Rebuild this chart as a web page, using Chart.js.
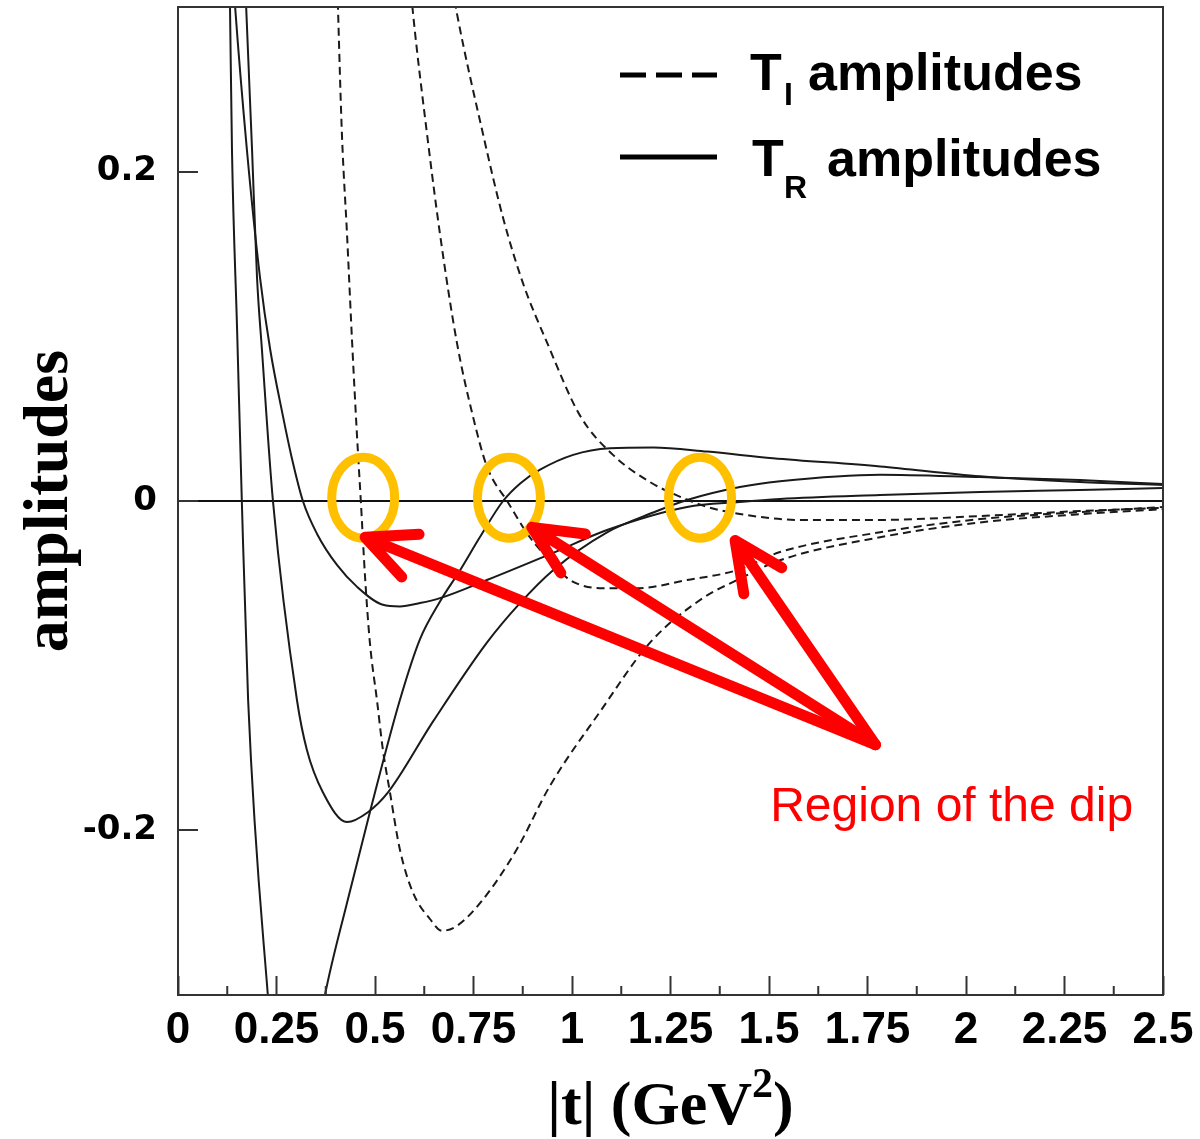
<!DOCTYPE html>
<html>
<head>
<meta charset="utf-8">
<script src="https://cdn.jsdelivr.net/npm/chart.js@4.4.1/dist/chart.umd.min.js"></script>
<style>
  html, body { margin: 0; padding: 0; background: #fff; }
  canvas { display: block; }
</style>
</head>
<body>
<canvas id="chartAmp" width="1200" height="1139"></canvas>
<script>
// |t| (GeV^2) samples and amplitude values for each curve

// T_R amplitudes (solid)
const tR1 = [0.127, 0.132, 0.137, 0.150, 0.162, 0.178, 0.228, 0.255, 0.29, 0.33, 0.373, 0.43, 0.487, 0.563, 0.614, 0.665, 0.716, 0.766, 0.825, 0.87, 0.919, 1.003, 1.096, 1.206, 1.343, 1.510, 1.782, 2.036, 2.289, 2.5];
const yR1 = [0.39, 0.300, 0.213, 0.104, 0, -0.121, -0.300, -0.37, -0.395, -0.36, -0.300, -0.243, -0.189, -0.121, -0.084, -0.061, -0.042, -0.022, 0, 0.011, 0.019, 0.028, 0.032, 0.0325, 0.030, 0.026, 0.021, 0.015, 0.0115, 0.0097];

const tR2 = [0.16, 0.173, 0.188, 0.2005, 0.213, 0.241, 0.302, 0.327, 0.368, 0.429, 0.482, 0.533, 0.647, 0.784, 0.868, 0.952, 1.089, 1.206, 1.292, 1.426, 1.528, 1.782, 2.036, 2.289, 2.5];
const yR2 = [0.385, 0.300, 0.213, 0.136, 0.092, 0, -0.121, -0.151, -0.177, -0.195, -0.189, -0.177, -0.134, -0.086, -0.062, -0.042, -0.019, -0.007, 0.0006, 0.0085, 0.012, 0.016, 0.0145, 0.0127, 0.0103];

const tR3 = [0.13, 0.145, 0.175, 0.208, 0.234, 0.266, 0.289, 0.317, 0.353, 0.404, 0.454, 0.520, 0.563, 0.614, 0.665, 0.784, 0.952, 1.089, 1.292, 1.426, 1.528, 1.782, 2.036, 2.289, 2.5];
const yR3 = [0.355, 0.300, 0.213, 0.136, 0.092, 0.052, 0.026, 0, -0.020, -0.039, -0.052, -0.063, -0.064, -0.062, -0.059, -0.048, -0.0315, -0.0176, -0.0036, -0.0006, 0.0012, 0.0036, 0.0055, 0.0067, 0.0079];

// T_I amplitudes (dashed)
const tI1 = [0.396, 0.406, 0.416, 0.429, 0.442, 0.454, 0.464, 0.475, 0.487, 0.505, 0.520, 0.538, 0.563, 0.596, 0.640, 0.670, 0.708, 0.774, 0.860, 0.944, 1.071, 1.198, 1.332, 1.419, 1.528, 1.782, 2.036, 2.289, 2.5];
const yI1 = [0.39, 0.300, 0.223, 0.162, 0.096, 0.041, 0, -0.047, -0.086, -0.121, -0.151, -0.177, -0.2115, -0.2376, -0.254, -0.261, -0.258, -0.242, -0.2115, -0.173, -0.128, -0.086, -0.059, -0.048, -0.036, -0.022, -0.013, -0.008, -0.005];

const tI2 = [0.58, 0.597, 0.632, 0.665, 0.708, 0.749, 0.784, 0.838, 0.893, 0.952, 0.995, 1.079, 1.165, 1.292, 1.419, 1.528, 1.782, 2.036, 2.289, 2.5];
const yI2 = [0.34, 0.295, 0.223, 0.162, 0.096, 0.051, 0.021, -0.001, -0.022, -0.038, -0.048, -0.053, -0.053, -0.048, -0.042, -0.031, -0.019, -0.011, -0.0067, -0.0036];

const tI3 = [0.68, 0.708, 0.774, 0.825, 0.876, 0.937, 1.020, 1.104, 1.198, 1.282, 1.343, 1.426, 1.579, 1.782, 2.036, 2.289, 2.5];
const yI3 = [0.335, 0.296, 0.223, 0.172, 0.132, 0.096, 0.052, 0.028, 0.0115, 0.0018, -0.0036, -0.0079, -0.0115, -0.0115, -0.0091, -0.0061, -0.0042];

// axis ticks
const xTicks = [0, 0.25, 0.5, 0.75, 1, 1.25, 1.5, 1.75, 2, 2.25, 2.5];
const xMinorTicks = [0.125, 0.375, 0.625, 0.875, 1.125, 1.375, 1.625, 1.875, 2.125, 2.375];
const yTicks = [-0.2, 0, 0.2];

// dip markers and arrows (data coordinates)
const dipT = [0.47, 0.84, 1.325];
const arrowTips = [[0.475, -0.022], [0.898, -0.016], [1.414, -0.024]];
const arrowFrom = [1.77, -0.148];
const dipLabel = "Region of the dip";
const dipLabelAt = [1.503, -0.1945];

function toPoints(ts, ys) {
  return ts.map((t, i) => ({ x: t, y: ys[i] }));
}

function curve(ts, ys, dashed) {
  return {
    data: toPoints(ts, ys),
    borderColor: "#1a1a1a",
    borderWidth: 2,
    borderDash: dashed ? [8, 5] : [],
    cubicInterpolationMode: "monotone",
    pointRadius: 0,
    fill: false,
  };
}

function drawArrow(ctx, x0, y0, x1, y1) {
  let ang = Math.atan2(y0 - y1, x0 - x1);
  let len = 54;
  ctx.beginPath();
  ctx.moveTo(x0, y0);
  ctx.lineTo(x1, y1);
  ctx.moveTo(x1 + len * Math.cos(ang - 0.44), y1 + len * Math.sin(ang - 0.44));
  ctx.lineTo(x1, y1);
  ctx.lineTo(x1 + len * Math.cos(ang + 0.44), y1 + len * Math.sin(ang + 0.44));
  ctx.stroke();
}

const decorations = {
  id: "decorations",
  afterDatasetsDraw(chart) {
    const { ctx, chartArea: a, scales } = chart;
    const x = scales.x;
    const y = scales.y;
    ctx.save();

    // frame around the plot
    ctx.strokeStyle = "#333";
    ctx.lineWidth = 2;
    ctx.setLineDash([]);
    ctx.strokeRect(a.left, a.top, a.right - a.left, a.bottom - a.top);

    // minor ticks on the |t| axis
    ctx.beginPath();
    for (const v of xMinorTicks) {
      let px = x.getPixelForValue(v);
      ctx.moveTo(px, a.bottom);
      ctx.lineTo(px, a.bottom - 9);
    }
    ctx.stroke();

    // x axis title with a raised exponent
    ctx.fillStyle = "#000";
    ctx.textBaseline = "alphabetic";
    ctx.textAlign = "left";
    let mainFont = "bold 62px 'Liberation Serif', 'Times New Roman', serif";
    let supFont = "bold 42px 'Liberation Serif', 'Times New Roman', serif";
    ctx.font = mainFont;
    let wMain = ctx.measureText("|t| (GeV").width;
    let wClose = ctx.measureText(")").width;
    ctx.font = supFont;
    let wSup = ctx.measureText("2").width;
    let tx = (a.left + a.right) / 2 - (wMain + wSup + wClose) / 2;
    ctx.font = mainFont;
    ctx.fillText("|t| (GeV", tx, 1124);
    ctx.fillText(")", tx + wMain + wSup, 1124);
    ctx.font = supFont;
    ctx.fillText("2", tx + wMain, 1097);

    // legend
    ctx.strokeStyle = "#000";
    ctx.lineWidth = 5;
    ctx.setLineDash([26, 10]);
    ctx.beginPath();
    ctx.moveTo(620, 75);
    ctx.lineTo(717, 75);
    ctx.stroke();
    ctx.setLineDash([]);
    ctx.beginPath();
    ctx.moveTo(620, 157);
    ctx.lineTo(717, 157);
    ctx.stroke();

    ctx.font = "bold 52px 'Liberation Sans', Arial, sans-serif";
    ctx.fillText("T", 750, 90);
    ctx.fillText("amplitudes", 808, 90);
    ctx.fillText("T", 752, 176);
    ctx.fillText("amplitudes", 827, 176);
    ctx.font = "bold 32px 'Liberation Sans', Arial, sans-serif";
    ctx.fillText("I", 784, 105);
    ctx.fillText("R", 784, 198);

    // dip regions
    ctx.strokeStyle = "#ffc000";
    ctx.lineWidth = 9;
    for (const t of dipT) {
      ctx.beginPath();
      ctx.ellipse(x.getPixelForValue(t), y.getPixelForValue(0.002), 31.5, 40.5, 0, 0, Math.PI * 2);
      ctx.stroke();
    }

    // arrows pointing at the dips
    ctx.strokeStyle = "#ff0000";
    ctx.lineWidth = 11;
    ctx.lineCap = "round";
    ctx.lineJoin = "round";
    let ox = x.getPixelForValue(arrowFrom[0]);
    let oy = y.getPixelForValue(arrowFrom[1]);
    for (const tip of arrowTips) {
      drawArrow(ctx, ox, oy, x.getPixelForValue(tip[0]), y.getPixelForValue(tip[1]));
    }

    ctx.fillStyle = "#ff0000";
    ctx.font = "48px 'Liberation Sans', Arial, sans-serif";
    ctx.fillText(dipLabel, x.getPixelForValue(dipLabelAt[0]), y.getPixelForValue(dipLabelAt[1]));

    ctx.restore();
  },
};

let chartAmp = new Chart(document.getElementById("chartAmp").getContext("2d"), {
  type: "line",
  data: {
    datasets: [
      curve(tR1, yR1, false),
      curve(tR2, yR2, false),
      curve(tR3, yR3, false),
      curve(tI1, yI1, true),
      curve(tI2, yI2, true),
      curve(tI3, yI3, true),
    ],
  },
  options: {
    responsive: false,
    animation: false,
    devicePixelRatio: 1,
    layout: { padding: { top: 7, right: 37, bottom: 0, left: 0 } },
    plugins: {
      legend: { display: false },
      tooltip: { enabled: false },
    },
    scales: {
      x: {
        type: "linear",
        min: 0,
        max: 2.5,
        afterBuildTicks: (s) => {
          s.ticks = xTicks.map((v) => ({ value: v }));
        },
        afterFit: (s) => {
          s.height = 144;
          s.paddingLeft = 0;
          s.paddingRight = 0;
        },
        border: { display: false },
        grid: {
          drawOnChartArea: false,
          drawTicks: true,
          tickLength: -19,
          tickColor: "#333",
          tickWidth: 2,
        },
        ticks: {
          autoSkip: false,
          maxRotation: 0,
          minRotation: 0,
          padding: 28,
          color: "#000",
          font: { family: "'Liberation Sans Narrow', 'Arial Narrow', 'Liberation Sans', sans-serif", weight: "bold", size: 44 },
          callback: (v) => String(v),
        },
      },
      y: {
        type: "linear",
        min: -0.3,
        max: 0.3,
        afterBuildTicks: (s) => {
          s.ticks = yTicks.map((v) => ({ value: v }));
        },
        afterFit: (s) => {
          s.width = 178;
          s.paddingTop = 0;
          s.paddingBottom = 0;
        },
        border: { display: false },
        grid: {
          drawOnChartArea: true,
          drawTicks: true,
          tickLength: -20,
          tickColor: "#333",
          tickWidth: 2,
          lineWidth: 2,
          color: (c) => (c.tick && c.tick.value === 0 ? "#111" : "rgba(0,0,0,0)"),
        },
        ticks: {
          padding: 41,
          color: "#000",
          font: { family: "'DejaVu Sans', sans-serif", weight: "bold", size: 34 },
          callback: (v) => String(v),
        },
        title: {
          display: true,
          text: "amplitudes",
          color: "#000",
          font: { family: "'Liberation Serif', 'Times New Roman', serif", weight: "bold", size: 64, lineHeight: 1 },
          padding: { top: 18, bottom: 0 },
        },
      },
    },
  },
  plugins: [decorations],
});
</script>
</body>
</html>
